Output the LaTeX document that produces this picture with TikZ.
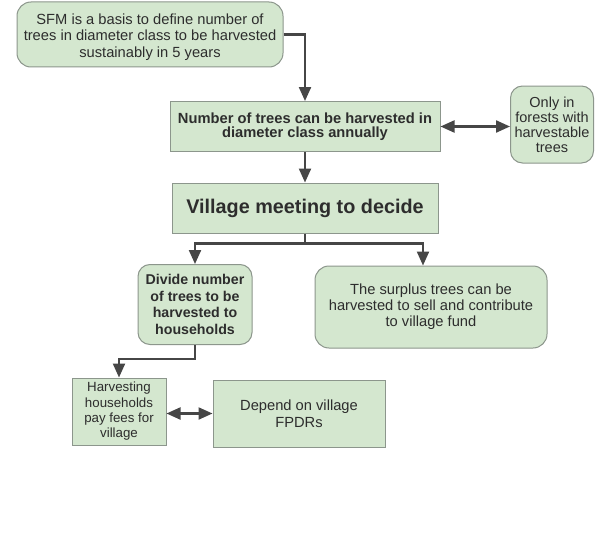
\documentclass[tikz,border=0pt]{standalone}
\usepackage{fontspec}
\setmainfont{Liberation Sans}
\usetikzlibrary{arrows.meta}
\definecolor{boxfill}{RGB}{212,231,207}
\definecolor{boxline}{RGB}{140,150,140}
\definecolor{linkcol}{RGB}{70,70,70}
\definecolor{inkcol}{RGB}{45,45,45}
\tikzset{
  card/.style={draw=boxline, fill=boxfill, line width=1pt, align=center, inner sep=0pt,
    text=inkcol, font=\fontsize{14.7}{16}\selectfont},
  roundcard/.style={card, rounded corners=12pt},
  tip/.tip={Triangle[length=14pt,width=12pt]},
  link/.style={draw=linkcol, line width=2.2pt, -tip},
  twoway/.style={draw=linkcol, line width=2.2pt, tip-tip},
}
\begin{document}
\begin{tikzpicture}[x=1pt,y=-1pt]
\useasboundingbox[fill=white] (0,0) rectangle (605,551);

\node[roundcard, rounded corners=14pt, minimum width=266pt, minimum height=65pt] (sfm) at (150,34.5)
  {\raisebox{-3pt}[\height][\depth]{\begin{tabular}{@{}c@{}}SFM is a basis to define number of\\[0.5pt]trees in diameter class to be harvested\\[0.5pt]sustainably in 5 years\end{tabular}}};
\node[card, minimum width=270pt, minimum height=50pt, font=\bfseries\fontsize{14.7}{14.5}\selectfont] (num) at (305,126.5)
  {Number of trees can be harvested in\\diameter class annually};
\node[roundcard, minimum width=83pt, minimum height=77pt, font=\fontsize{14.5}{15}\selectfont] (only) at (552,124.5)
  {Only in\\forests with\\harvestable\\trees};
\node[card, minimum width=266pt, minimum height=50pt, font=\bfseries\fontsize{19.8}{22}\selectfont] (village) at (305,208)
  {Village meeting to decide};
\node[roundcard, minimum width=114pt, minimum height=80pt, font=\bfseries\fontsize{14.2}{16.5}\selectfont] (divide) at (195,304.5)
  {Divide number\\of trees to be\\harvested to\\households};
\node[roundcard, rounded corners=14pt, minimum width=232pt, minimum height=82pt] (surplus) at (431,307)
  {The surplus trees can be\\harvested to sell and contribute\\to village fund};
\node[card, minimum width=94pt, minimum height=67pt, font=\fontsize{13.3}{15.3}\selectfont] (harv) at (119,411.5)
  {Harvesting\\households\\pay fees for\\village};
\node[card, minimum width=172pt, minimum height=67pt, font=\fontsize{14.7}{17}\selectfont] (depend) at (299,413.5)
  {Depend on village\\FPDRs};

% connectors
\draw[link] (sfm.east) -| (num.north);
\draw[link] (num.south) -- (village.north);
\draw[twoway] (num.east) -- (num.east -| only.west);
\draw[link] (village.south) -- ++(0,10) coordinate (fork) -| (divide.north);
\draw[link] (fork) -| ([xshift=-8pt]surplus.north);
\draw[link] (divide.south) -- ++(0,14) -| (harv.north);
\draw[twoway] (depend.west -| harv.east) -- (depend.west);
\end{tikzpicture}
\end{document}
